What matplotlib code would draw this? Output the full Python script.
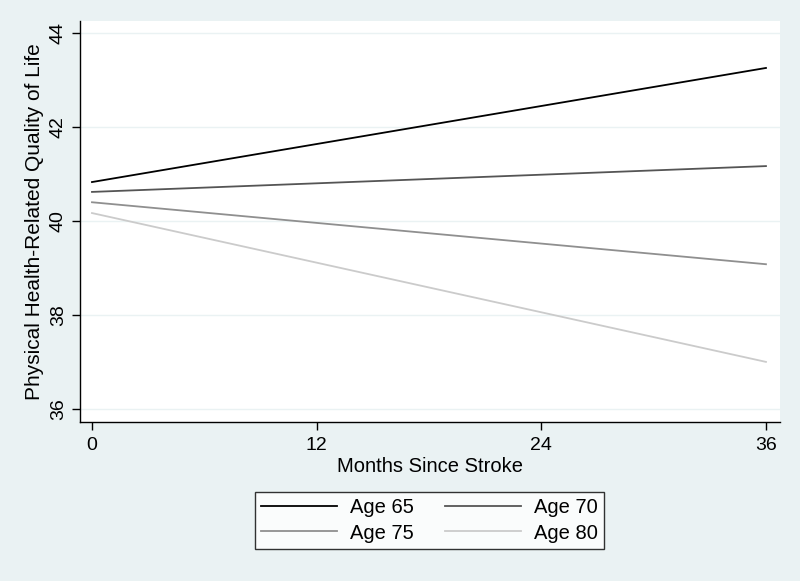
import matplotlib
matplotlib.use("Agg")
import matplotlib.pyplot as plt

plt.rcParams['font.family'] = ['Liberation Sans', 'DejaVu Sans']

# Datos
months = [0, 36]
labels = ["Age 65", "Age 70", "Age 75", "Age 80"]
qol_start = [40.83, 40.62, 40.40, 40.17]
qol_end = [43.26, 41.17, 39.08, 37.00]
colors = ["#000000", "#555555", "#8f8f8f", "#cbcbcb"]

xticks = [0, 12, 24, 36]
yticks = [36, 38, 40, 42, 44]

bg = "#eaf2f3"
fig = plt.figure(figsize=(8, 5.81), dpi=100, facecolor=bg)
ax = fig.add_axes([80 / 800, 1 - 422 / 581, 700 / 800, 401 / 581])
ax.set_facecolor("white")

lines = []
for lab, a, b, c in zip(labels, qol_start, qol_end, colors):
    ln, = ax.plot(months, [a, b], color=c, lw=1.3, label=lab)
    lines.append(ln)

ax.set_xlim(-0.64, 36.75)
ax.set_ylim(35.72, 44.26)
ax.set_xticks(xticks)
ax.set_yticks(yticks)
ax.yaxis.grid(True, color=bg, lw=1)
ax.set_axisbelow(True)
for s in ["top", "right"]:
    ax.spines[s].set_visible(False)
for s in ["left", "bottom"]:
    ax.spines[s].set_linewidth(1.0)
ax.tick_params(axis="both", labelsize=14, length=6, width=1, direction="out")
ax.tick_params(axis="x", pad=5)
for t in ax.get_yticklabels():
    t.set_rotation(90)
    t.set_va("center")

ax.set_xlabel("Months Since Stroke", fontsize=14.5, labelpad=2)
ax.set_ylabel("Physical Health-Related Quality of Life", fontsize=15, labelpad=4)

# orden por filas como en Stata
order = [0, 2, 1, 3]
leg = fig.legend([lines[i] for i in order], [labels[i] for i in order],
                 loc="center", bbox_to_anchor=(429.5 / 800, 1 - 520.5 / 581),
                 ncol=2, fontsize=14.5, frameon=True, fancybox=False,
                 edgecolor="black", handlelength=3.75, columnspacing=1.55,
                 labelspacing=0.3, handletextpad=0.65, borderpad=0.3,
                 borderaxespad=0)
leg.get_frame().set_linewidth(1.0)

fig.savefig("out.png", dpi=100, facecolor=bg)
